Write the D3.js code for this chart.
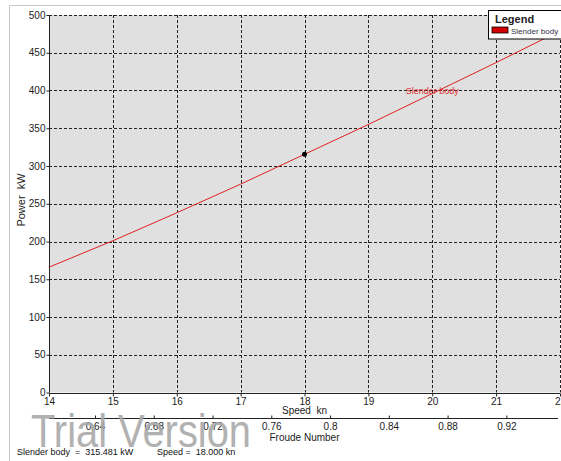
<!DOCTYPE html>
<html>
<head>
<meta charset="utf-8">
<script src="https://cdn.jsdelivr.net/npm/d3@7"></script>
<style>
  html, body { margin: 0; padding: 0; background: #fff; }
  svg { display: block; font-family: "Liberation Sans", Arial, sans-serif; }
</style>
</head>
<body>
<svg id="chart" width="561" height="461"></svg>
<script>
// Power curve for the slender body hull
const speeds = [14, 15, 16, 17, 18, 19, 20, 21, 22];
const powerKW = [166, 201, 238, 276, 315.481, 355, 396, 437, 479];
const speedTicks = [14, 15, 16, 17, 18, 19, 20, 21, 22];
const powerTicks = [0, 50, 100, 150, 200, 250, 300, 350, 400, 450, 500];
const froudeTicks = [0.64, 0.68, 0.72, 0.76, 0.8, 0.84, 0.88, 0.92];
const froudeDomain = [0.6087, 0.9565];
const seriesName = "Slender body";
const cursor = { speed: 18, power: 315.481 };

const svg = d3.select("#chart");
const plot = { left: 49, top: 15, right: 560, bottom: 392.5 };

const x = d3.scaleLinear().domain([14, 22]).range([plot.left, plot.right]);
const y = d3.scaleLinear().domain([0, 500]).range([plot.bottom, plot.top]);
const xf = d3.scaleLinear().domain(froudeDomain).range([plot.left, plot.right]);

// outer frame
svg.append("line").attr("x1", 9.5).attr("x2", 561).attr("y1", 5.5).attr("y2", 5.5)
  .attr("stroke", "#c8c8c8");
svg.append("line").attr("x1", 9.5).attr("x2", 9.5).attr("y1", 5.5).attr("y2", 461)
  .attr("stroke", "#c8c8c8");

// plot background
svg.append("rect")
  .attr("x", plot.left).attr("y", plot.top)
  .attr("width", plot.right - plot.left).attr("height", plot.bottom - plot.top)
  .attr("fill", "#e0e0e0");

// dashed grid
const grid = svg.append("g").attr("stroke", "#222").attr("stroke-dasharray", "3,2").attr("stroke-width", 1);
grid.selectAll("line.h").data(powerTicks.slice(1)).join("line")
  .attr("x1", plot.left).attr("x2", plot.right)
  .attr("y1", d => Math.round(y(d)) + 0.5).attr("y2", d => Math.round(y(d)) + 0.5);
grid.selectAll("line.v").data(speedTicks.slice(1)).join("line")
  .attr("y1", plot.top).attr("y2", plot.bottom)
  .attr("x1", d => Math.round(x(d)) + 0.5).attr("x2", d => Math.round(x(d)) + 0.5);

// y axis
const yAxis = svg.append("g").attr("transform", `translate(${plot.left + 0.5},0)`)
  .call(d3.axisLeft(y).tickValues(powerTicks).tickSize(3).tickPadding(1).tickFormat(d3.format("d")));
yAxis.select(".domain").attr("stroke", "#222").attr("d", `M0,${plot.top}V${plot.bottom}`);
yAxis.selectAll(".tick line").attr("stroke", "#222");
yAxis.selectAll("text").attr("font-size", "10px").attr("fill", "#222").attr("font-family", null);

// speed axis
const xAxis = svg.append("g").attr("transform", `translate(0,${Math.round(plot.bottom) + 0.5})`)
  .call(d3.axisBottom(x).tickValues(speedTicks).tickSize(3).tickPadding(1).tickFormat(d3.format("d")));
xAxis.select(".domain").attr("stroke", "#222").attr("d", `M${plot.left},0H${plot.right}`);
xAxis.selectAll(".tick line").attr("stroke", "#222");
xAxis.selectAll("text").attr("font-size", "10px").attr("fill", "#222").attr("font-family", null);

svg.append("text").attr("x", (plot.left + plot.right) / 2).attr("y", 414)
  .attr("text-anchor", "middle").attr("font-size", "10px").attr("fill", "#222")
  .attr("xml:space", "preserve").style("white-space", "pre")
  .text("Speed  kn");

// Froude number axis
const fAxis = svg.append("g").attr("transform", "translate(0,418.5)")
  .call(d3.axisTop(xf).tickValues(froudeTicks).tickSize(3).tickFormat(d3.format("")));
fAxis.select(".domain").attr("stroke", "#222").attr("d", `M${plot.left},0H${plot.right - 2}`);
fAxis.selectAll(".tick line").attr("stroke", "#222");
fAxis.selectAll("text").attr("font-size", "10px").attr("fill", "#222").attr("font-family", null)
  .attr("y", 11).attr("dy", null);

svg.append("text").attr("x", (plot.left + plot.right) / 2).attr("y", 441)
  .attr("text-anchor", "middle").attr("font-size", "10px").attr("fill", "#222")
  .text("Froude Number");

// power axis title
svg.append("text")
  .attr("transform", "translate(25,200) rotate(-90)")
  .attr("text-anchor", "middle").attr("font-size", "11px").attr("fill", "#222")
  .attr("xml:space", "preserve").style("white-space", "pre")
  .text("Power  kW");

// power curve
const line = d3.line().x((d, i) => x(speeds[i])).y(d => y(d));
svg.append("path").datum(powerKW)
  .attr("d", line)
  .attr("fill", "none").attr("stroke", "#e02020").attr("stroke-width", 1);

svg.append("text").attr("x", x(20)).attr("y", y(396))
  .attr("text-anchor", "middle").attr("font-size", "9px").attr("fill", "#e03030")
  .text(seriesName);

// cursor point
svg.append("circle").attr("cx", x(cursor.speed)).attr("cy", y(cursor.power))
  .attr("r", 2.5).attr("fill", "#000");

// legend
const lg = svg.append("g");
lg.append("rect").attr("x", 488.5).attr("y", 10.5).attr("width", 80).attr("height", 28.5)
  .attr("fill", "#fff").attr("stroke", "#000");
lg.append("text").attr("x", 495).attr("y", 23).attr("font-size", "11px").attr("font-weight", "bold")
  .attr("fill", "#222").text("Legend");
lg.append("rect").attr("x", 492).attr("y", 27).attr("width", 16).attr("height", 6)
  .attr("fill", "#d00000").attr("stroke", "#000").attr("stroke-width", 0.8);
lg.append("text").attr("x", 511).attr("y", 33.5).attr("font-size", "8px").attr("fill", "#334")
  .text(seriesName);

// watermark
svg.append("text").attr("x", 31).attr("y", 447)
  .attr("font-size", "46px").attr("fill", "#a9a9a9").attr("opacity", 0.9)
  .attr("textLength", 220).attr("lengthAdjust", "spacingAndGlyphs")
  .text("Trial Version");

// status line
const status = svg.append("text").attr("y", 455).attr("font-size", "9px").attr("fill", "#111")
  .attr("xml:space", "preserve").style("white-space", "pre");
status.append("tspan").attr("x", 17).text(`${seriesName}  =  ${cursor.power.toFixed(3)} kW`);
status.append("tspan").attr("x", 157).text(`Speed =  ${cursor.speed.toFixed(3)} kn`);
</script>
</body>
</html>
